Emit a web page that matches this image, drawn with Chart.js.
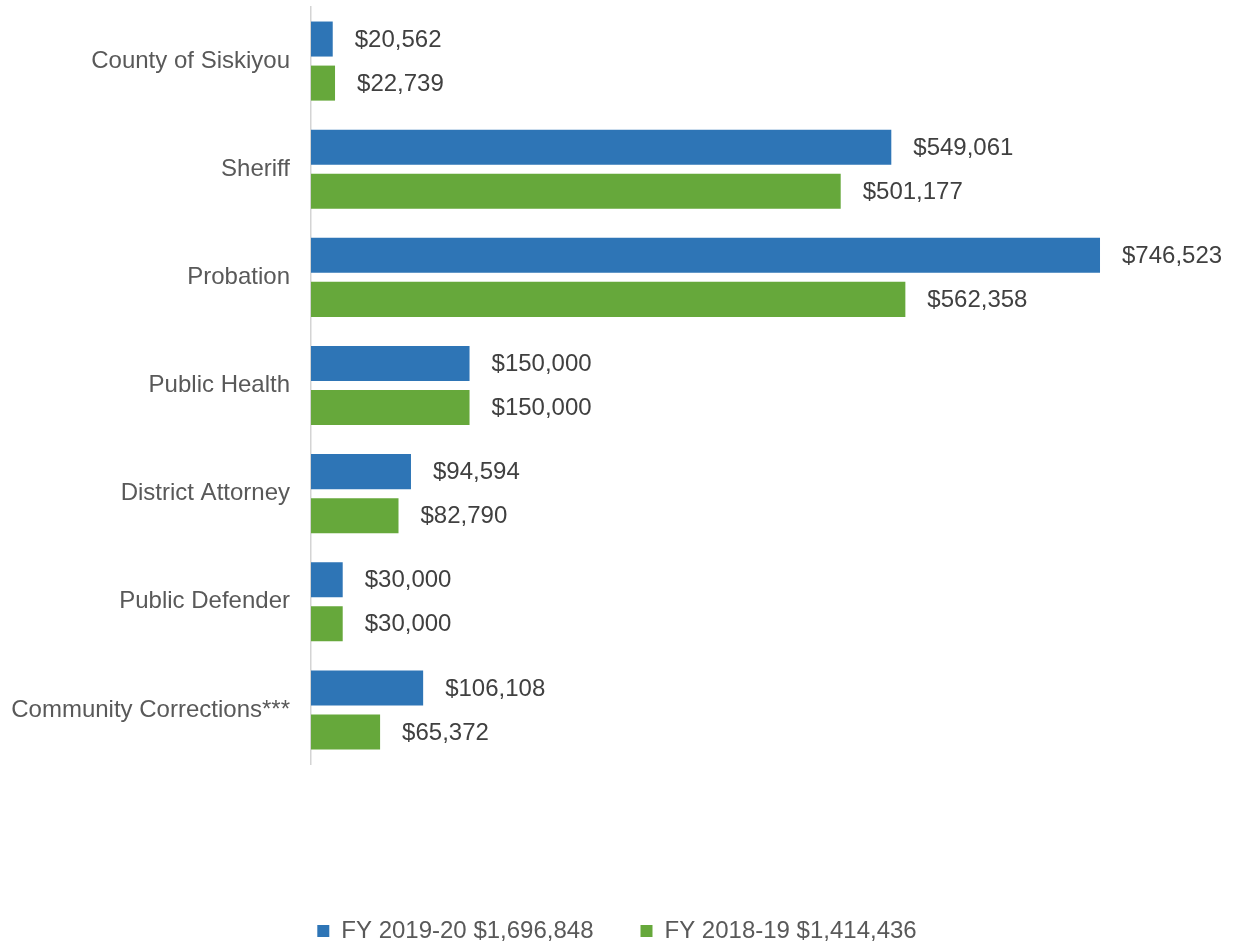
<!DOCTYPE html>
<html>
<head>
<meta charset="utf-8">
<script src="https://cdn.jsdelivr.net/npm/chart.js@4"></script>
<style>
  html, body { margin: 0; padding: 0; background: #fff; }
  #wrap { width: 1234px; height: 944px; position: relative; }
</style>
</head>
<body>
<div id="wrap"><canvas id="chart"></canvas></div>
<script>
'use strict';

const categories = [
  'County of Siskiyou',
  'Sheriff',
  'Probation',
  'Public Health',
  'District Attorney',
  'Public Defender',
  'Community Corrections***',
];
const fy2019Label = 'FY 2019-20 $1,696,848';
const fy2018Label = 'FY 2018-19 $1,414,436';
const fy2019Values = [20562, 549061, 746523, 150000, 94594, 30000, 106108];
const fy2018Values = [22739, 501177, 562358, 150000, 82790, 30000, 65372];

const blue = '#2e75b6';
const green = '#66a83b';
const fontFamily = '"Liberation Sans", Arial, sans-serif';

// Wertbeschriftungen rechts neben den Balken
const valueLabels = {
  id: 'valueLabels',
  afterDatasetsDraw(chart) {
    const ctx = chart.ctx;
    ctx.save();
    ctx.font = `24px ${fontFamily}`;
    ctx.fillStyle = '#404040';
    ctx.textAlign = 'left';
    ctx.textBaseline = 'middle';
    chart.data.datasets.forEach((ds, i) => {
      chart.getDatasetMeta(i).data.forEach((bar, j) => {
        const text = '$' + ds.data[j].toLocaleString('en-US');
        ctx.fillText(text, bar.x + 22, bar.y + 1);
      });
    });
    ctx.restore();
  },
};

const ctx = document.getElementById('chart').getContext('2d');
new Chart(ctx, {
  type: 'bar',
  data: {
    labels: categories,
    datasets: [
      {
        label: fy2019Label,
        data: fy2019Values,
        backgroundColor: blue,
        categoryPercentage: 0.815,
        barPercentage: 0.795,
      },
      {
        label: fy2018Label,
        data: fy2018Values,
        backgroundColor: green,
        categoryPercentage: 0.815,
        barPercentage: 0.795,
      },
    ],
  },
  options: {
    indexAxis: 'y',
    responsive: true,
    maintainAspectRatio: false,
    animation: false,
    layout: { padding: { top: 7, right: 0, bottom: -9, left: 0 } },
    scales: {
      x: {
        min: 0,
        max: 873300,
        grid: { display: false, drawTicks: false },
        border: { display: false },
        ticks: { display: false },
        afterFit: scale => { scale.height = 108; },
      },
      y: {
        grid: { display: false, drawTicks: false },
        border: { display: true, color: '#d4d4d4', width: 1.5 },
        ticks: {
          color: '#595959',
          padding: 21,
          font: { family: fontFamily, size: 24 },
        },
        afterFit: scale => {
          scale.width = 311;
          scale.paddingTop = 0;
          scale.paddingBottom = 0;
        },
      },
    },
    plugins: {
      legend: {
        position: 'bottom',
        labels: {
          boxWidth: 12,
          boxHeight: 12,
          padding: 47,
          color: '#595959',
          font: { family: fontFamily, size: 24 },
        },
      },
      tooltip: { enabled: false },
    },
  },
  plugins: [valueLabels],
});
</script>
</body>
</html>
